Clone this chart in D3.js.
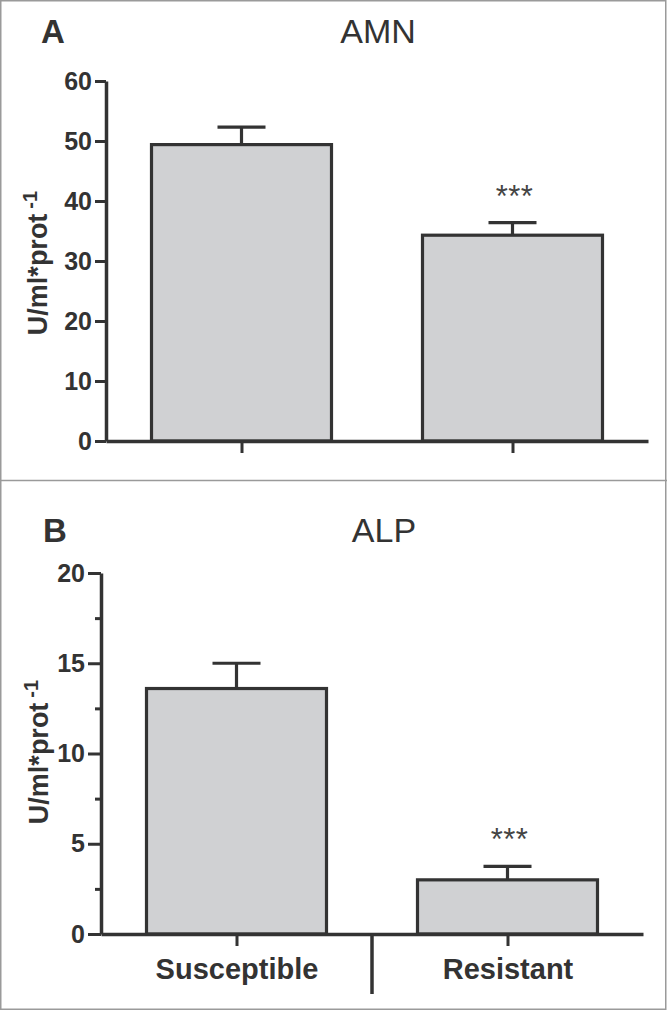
<!DOCTYPE html>
<html>
<head>
<meta charset="utf-8">
<script src="https://cdn.jsdelivr.net/npm/d3@7"></script>
<style>
  html, body { margin: 0; padding: 0; background: #fff; }
  svg { display: block; }
  text { font-family: "Liberation Sans", Arial, sans-serif; fill: #333; }
</style>
</head>
<body>
<script>
// ---- data ----
const categories = ["Susceptible", "Resistant"];
const amnMeans = [49.4, 34.3];
const amnErr = [2.9, 2.1];
const alpMeans = [13.6, 3.0];
const alpErr = [1.4, 0.75];
const amnTicks = [0, 10, 20, 30, 40, 50, 60];
const alpTicks = [0, 5, 10, 15, 20];
const alpMinorTicks = [2.5, 7.5, 12.5, 17.5];
const significance = ["", "***"];
const panelLetters = ["A", "B"];
const panelTitles = ["AMN", "ALP"];
const yLabel = "U/ml*prot";
const ySup = "-1";

const W = 667, H = 1011;
const ink = "#333";
const svg = d3.select("body").append("svg").attr("width", W).attr("height", H);

// frame
svg.append("rect").attr("x", 0.75).attr("y", 0.75).attr("width", W - 2).attr("height", H - 2.5)
  .attr("fill", "none").attr("stroke", "#9a9a9a").attr("stroke-width", 1.5);
svg.append("line").attr("x1", 0).attr("x2", W).attr("y1", 480.5).attr("y2", 480.5)
  .attr("stroke", "#9a9a9a").attr("stroke-width", 1.5);

function panel(opt) {
  const g = svg.append("g");
  const x = d3.scalePoint().domain(categories).range([opt.x0, opt.x1]).padding(0.5);
  const y = d3.scaleLinear().domain([0, opt.ymax]).range([opt.yBottom, opt.yTop]);
  const barW = 180;

  // letter & title
  g.append("text").attr("x", opt.letterX).attr("y", opt.titleY).attr("font-size", 33)
    .attr("font-weight", "bold").text(opt.letter);
  g.append("text").attr("x", opt.titleX).attr("y", opt.titleY).attr("font-size", 34)
    .attr("text-anchor", "middle").text(opt.title);

  // y label
  const yl = g.append("text")
    .attr("transform", `translate(${opt.ylabX},${opt.ylabY}) rotate(-90)`)
    .attr("text-anchor", "middle").attr("font-size", 27).attr("font-weight", "bold");
  yl.append("tspan").text(yLabel);
  yl.append("tspan").attr("dx", 5).attr("dy", -10).attr("font-size", 20).text(ySup);

  // bars
  g.selectAll("rect.bar").data(opt.means).join("rect")
    .attr("x", (d, i) => x(categories[i]) - barW / 2)
    .attr("y", d => y(d))
    .attr("width", barW)
    .attr("height", d => y(0) - y(d))
    .attr("fill", "#d0d1d3").attr("stroke", ink).attr("stroke-width", 3.2);

  // error bars (upper only)
  opt.means.forEach((m, i) => {
    const cx = x(categories[i]);
    const top = y(m + opt.errs[i]);
    g.append("line").attr("x1", cx).attr("x2", cx).attr("y1", y(m)).attr("y2", top)
      .attr("stroke", ink).attr("stroke-width", 3.2);
    g.append("line").attr("x1", cx - 24).attr("x2", cx + 24).attr("y1", top).attr("y2", top)
      .attr("stroke", ink).attr("stroke-width", 3.2);
    if (significance[i]) {
      g.append("text").attr("x", cx + 2).attr("y", top - 16).attr("text-anchor", "middle")
        .attr("font-family", "DejaVu Sans").attr("font-size", 31).attr("letter-spacing", 0.5)
        .style("fill", "#444").text(significance[i]);
    }
  });

  // y axis
  const ya = g.append("g").attr("transform", `translate(${opt.x0},0)`)
    .call(d3.axisLeft(y).tickValues(opt.ticks).tickFormat(d3.format("d")).tickSize(opt.tickLen).tickSizeOuter(0).tickPadding(3));
  if (opt.minor) {
    g.append("g").attr("transform", `translate(${opt.x0},0)`)
      .call(d3.axisLeft(y).tickValues(opt.minor).tickFormat("").tickSize(6).tickSizeOuter(0))
      .call(s => s.select(".domain").remove())
      .selectAll("line").attr("stroke", ink).attr("stroke-width", 3);
  }
  ya.select(".domain").attr("stroke", ink).attr("stroke-width", 3.5);
  ya.selectAll(".tick line").attr("stroke", ink).attr("stroke-width", 3);
  ya.selectAll(".tick text").attr("font-size", 25).attr("font-weight", "bold")
    .attr("font-family", "Liberation Sans, Arial, sans-serif").style("fill", ink);

  // x axis
  const xa = g.append("g").attr("transform", `translate(0,${opt.yBottom})`)
    .call(d3.axisBottom(x).tickSize(12).tickSizeOuter(0).tickPadding(12)
      .tickFormat(opt.showLabels ? (d => d) : () => ""));
  xa.select(".domain").attr("stroke", ink).attr("stroke-width", 3.5);
  xa.selectAll(".tick line").attr("stroke", ink).attr("stroke-width", 3);
  xa.selectAll(".tick text").attr("font-size", 29).attr("font-weight", "bold")
    .attr("font-family", "Liberation Sans, Arial, sans-serif").style("fill", ink);

  if (opt.separator) {
    const mid = (x(categories[0]) + x(categories[1])) / 2;
    g.append("line").attr("x1", mid).attr("x2", mid).attr("y1", opt.yBottom).attr("y2", opt.yBottom + 60)
      .attr("stroke", ink).attr("stroke-width", 3.5);
  }
}

panel({
  letter: panelLetters[0], title: panelTitles[0], letterX: 41, titleX: 378, titleY: 43,
  x0: 106, x1: 648, yBottom: 441, yTop: 81, ymax: 60, ticks: amnTicks, tickLen: 11,
  means: amnMeans, errs: amnErr, ylabX: 47, ylabY: 263, showLabels: false, separator: false
});
panel({
  letter: panelLetters[1], title: panelTitles[1], letterX: 43, titleX: 384, titleY: 542,
  x0: 101, x1: 643, yBottom: 934, yTop: 573, ymax: 20, ticks: alpTicks, minor: alpMinorTicks, tickLen: 13,
  means: alpMeans, errs: alpErr, ylabX: 48, ylabY: 752, showLabels: true, separator: true
});
</script>
</body>
</html>
